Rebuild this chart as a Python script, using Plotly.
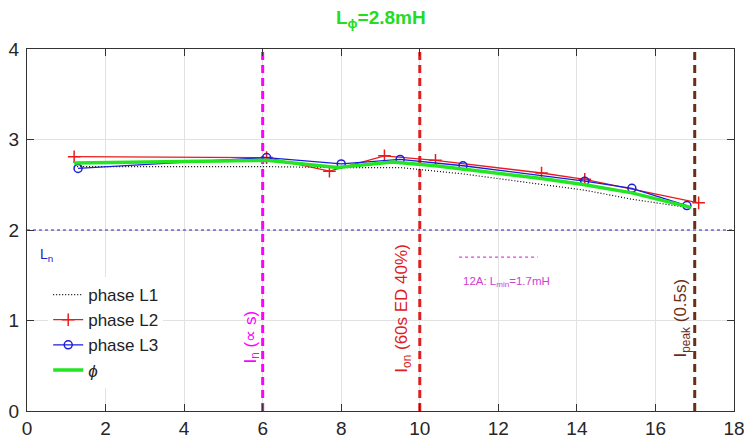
import plotly.graph_objects as go

# ---- data ----
l1_x = [1.2, 6.1, 8.0, 9.5, 11.1, 14.2, 15.4, 16.8]
l1_y = [2.70, 2.70, 2.69, 2.69, 2.62, 2.44, 2.34, 2.25]

l2_x = [1.2, 6.1, 7.7, 9.1, 10.4, 13.1, 14.2, 17.1]
l2_y = [2.81, 2.80, 2.65, 2.82, 2.77, 2.63, 2.56, 2.30]

l3_x = [1.3, 6.1, 8.0, 9.5, 11.1, 14.2, 15.4, 16.8]
l3_y = [2.68, 2.80, 2.73, 2.78, 2.71, 2.54, 2.46, 2.27]

phi_x = [1.2, 6.1, 7.9, 9.3, 10.4, 13.1, 14.2, 15.4, 16.9]
phi_y = [2.74, 2.77, 2.69, 2.75, 2.71, 2.57, 2.50, 2.41, 2.25]

ln_value = 2.0
lmin_x = [11.0, 13.0]
lmin_y = [1.7, 1.7]

vline_x = [6, 10, 17]
vline_colors = ["#ff00ff", "#dd2020", "#6b2e17"]
vline_labels = ["I<sub>n</sub> (∝ s)", "I<sub>on</sub> (60s ED 40%)", "I<sub>peak</sub> (0.5s)"]
vline_label_pos = [(5.72, 0.82), (9.57, 1.14), (16.67, 1.03)]

x_range = [0, 18]
y_range = [0, 4]
x_ticks = list(range(0, 19, 2))
y_ticks = [0, 1, 2, 3, 4]

FONT = "Liberation Sans, Arial, Helvetica, sans-serif"

fig = go.Figure()

# horizontal Ln line
fig.add_trace(go.Scatter(x=x_range, y=[ln_value, ln_value], mode="lines",
                         line=dict(color="#2020cc", width=1.2, dash="dot"),
                         showlegend=False, hoverinfo="skip"))

# vertical dashed lines
for vx, vc in zip(vline_x, vline_colors):
    fig.add_trace(go.Scatter(x=[vx, vx], y=y_range, mode="lines",
                             line=dict(color=vc, width=3, dash="8px,5px"),
                             showlegend=False, hoverinfo="skip"))

# Lmin marker line
fig.add_trace(go.Scatter(x=lmin_x, y=lmin_y, mode="lines",
                         line=dict(color="#e040e0", width=1.2, dash="dot"),
                         showlegend=False, hoverinfo="skip"))

fig.add_trace(go.Scatter(x=l1_x, y=l1_y, mode="lines", name="phase L1",
                         line=dict(color="black", width=1.2, dash="1px,2px")))
fig.add_trace(go.Scatter(x=l2_x, y=l2_y, mode="lines+markers", name="phase L2",
                         line=dict(color="#e81c1c", width=1.3),
                         marker=dict(symbol="cross-thin", size=9,
                                     line=dict(color="#e81c1c", width=1.5))))
fig.add_trace(go.Scatter(x=l3_x, y=l3_y, mode="lines+markers", name="phase L3",
                         line=dict(color="#1c1cdd", width=1.3),
                         marker=dict(symbol="circle-open", size=8,
                                     line=dict(color="#1c1cdd", width=1.5))))
fig.add_trace(go.Scatter(x=phi_x, y=phi_y, mode="lines", name="<i>ϕ</i>",
                         line=dict(color="#22e622", width=3.5)))

annotations = []
for (ax, ay), lab, col in zip(vline_label_pos, vline_labels, vline_colors):
    annotations.append(dict(x=ax, y=ay, xref="x", yref="y", text=lab, textangle=-90,
                            showarrow=False, font=dict(size=17, color=col, family=FONT)))
annotations.append(dict(x=12.2, y=1.43, xref="x", yref="y",
                        text="12A: L<sub>min</sub>=1.7mH", showarrow=False,
                        font=dict(size=11.5, color="#d040d0", family=FONT)))
annotations.append(dict(x=0.5, y=1.72, xref="x", yref="y",
                        text="L<sub>n</sub>", showarrow=False,
                        font=dict(size=14, color="#2020cc", family=FONT)))
annotations.append(dict(x=0.5, y=1.0, xref="paper", yref="paper", yanchor="middle",
                        yshift=30,
                        text="<b>L<sub>ϕ</sub>=2.8mH</b>", showarrow=False,
                        font=dict(size=19, color="#22dd22", family=FONT)))

axis_common = dict(showgrid=True, gridcolor="#e2e2e2", gridwidth=1,
                   showline=True, linecolor="#333333", linewidth=1, mirror="ticks",
                   ticks="inside", ticklen=7, tickcolor="#333333", automargin=False,
                   ticklabeloverflow="allow",
                   zeroline=False, tickfont=dict(size=19, color="#262626", family=FONT))

fig.update_layout(
    width=744, height=441,
    margin=dict(l=27, r=10, t=49, b=30),
    paper_bgcolor="white", plot_bgcolor="white",
    font=dict(family=FONT),
    xaxis=dict(range=x_range, tickvals=x_ticks, **axis_common),
    yaxis=dict(range=y_range, tickvals=y_ticks, ticklabelstandoff=3, **axis_common),
    legend=dict(x=0.030, y=0.37, xanchor="left", yanchor="top",
                bgcolor="rgba(255,255,255,0.95)", borderwidth=0,
                font=dict(size=17, color="#222222", family=FONT),
                tracegroupgap=0),
    annotations=annotations,
    showlegend=True,
)

# remove the default 8px page margin so the figure fills the 744x441 window exactly
fig.write_html("out.html",
               config={"displayModeBar": False},
               post_script="document.body.style.margin='0';document.body.style.overflow='hidden';")
